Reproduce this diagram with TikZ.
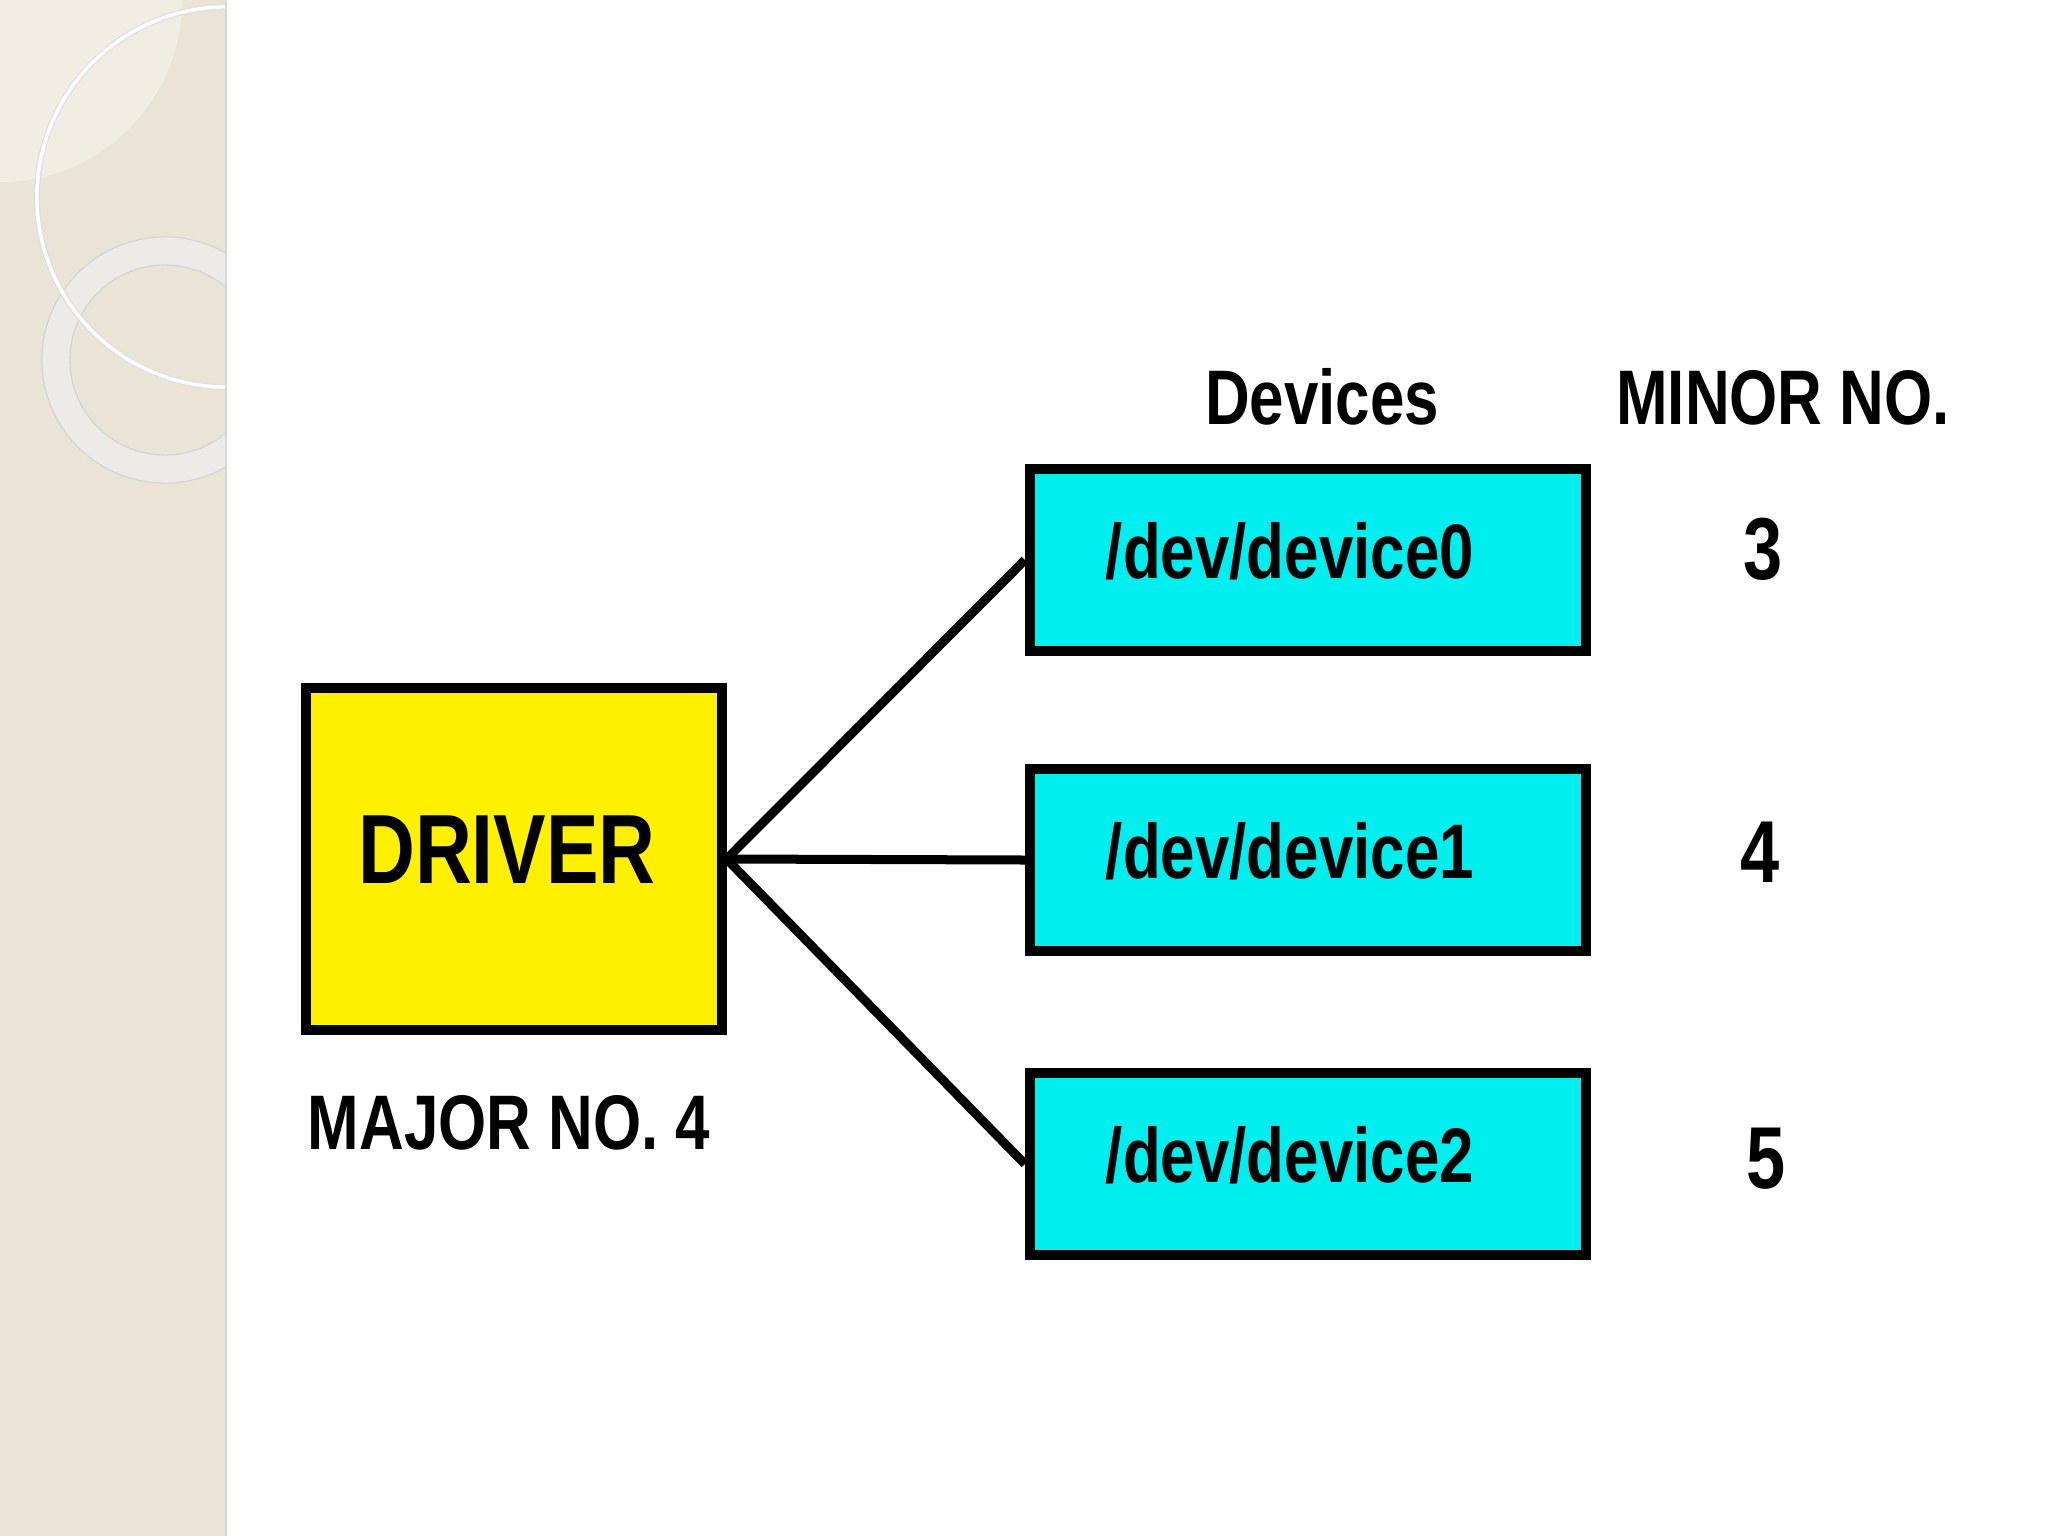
\documentclass[tikz,border=0pt]{standalone}
\usepackage{fontspec}
\newfontfamily\slidefont{Liberation Sans}[FakeStretch=0.8]
\usetikzlibrary{positioning}
\definecolor{drvyellow}{RGB}{255,240,0}
\definecolor{devcyan}{RGB}{0,238,238}
\definecolor{stripbeige}{RGB}{233,228,213}
\definecolor{ringgray}{RGB}{236,235,231}
\tikzset{box/.style={draw=black,line width=0.1cm,inner sep=0pt},
  driver node/.style={box,fill=drvyellow,minimum width=4.15cm,minimum height=3.42cm,
    text depth=0.18cm,font=\slidefont\bfseries\fontsize{28}{30}\selectfont},
  device node/.style={box,fill=devcyan,minimum width=5.56cm,minimum height=1.82cm,
    text depth=0.2cm,font=\slidefont\bfseries\fontsize{22}{24}\selectfont},
  head/.style={inner sep=0pt,anchor=base,font=\slidefont\bfseries\fontsize{22}{24}\selectfont},
  number/.style={inner sep=0pt,anchor=base,font=\slidefont\bfseries\fontsize{25}{27}\selectfont},
}

\begin{document}
\begin{tikzpicture}[x=0.01cm, y=-0.01cm]
	\useasboundingbox[fill=white] (0,0) rectangle (2048,1536);
	% left strip of the slide
	\begin{scope}
		\clip (0,0) rectangle (226,1536);
		\fill[stripbeige] (0,0) rectangle (226,1536);
		\fill[white,opacity=0.35] (0,0) circle (1.82cm);
		\fill[ringgray,even odd rule,draw=gray!35,line width=0.3pt]
		  (165,360) circle (1.23cm) (165,360) circle (0.95cm);
		\draw[gray!25,line width=0.06cm] (227,197) circle (1.9cm);
		\draw[white,line width=0.035cm] (227,197) circle (1.9cm);
	\end{scope}
	\draw[gray!30,line width=0.02cm] (226,0) -- (226,1536);

	\node[driver node] (drv) at (514,859) {DRIVER\rule{0.14cm}{0pt}};
	\node[device node] (d0) at (1308,560) {/dev/device0\rule{0.36cm}{0pt}};
	\node[device node] (d1) at (1308,860) {/dev/device1\rule{0.36cm}{0pt}};
	\node[device node] (d2) at (1308,1164) {/dev/device2\rule{0.36cm}{0pt}};

	\node[head] (devs) at (1322,424) {Devices};
	\node[head] (minor) at (1783,424) {MINOR NO.};
	\node[head] (major) at (509,1149) {MAJOR NO. 4};
	\node[number] (m0) at (1763,579) {3};
	\node[number] (m1) at (1760,882) {4};
	\node[number] (m2) at (1766,1188) {5};

	\path[draw,line width=0.09cm]
	(drv.east) edge (d0.west)
	(drv.east) edge (d1.west)
	(drv.east) edge (d2.west);
\end{tikzpicture}
\end{document}
